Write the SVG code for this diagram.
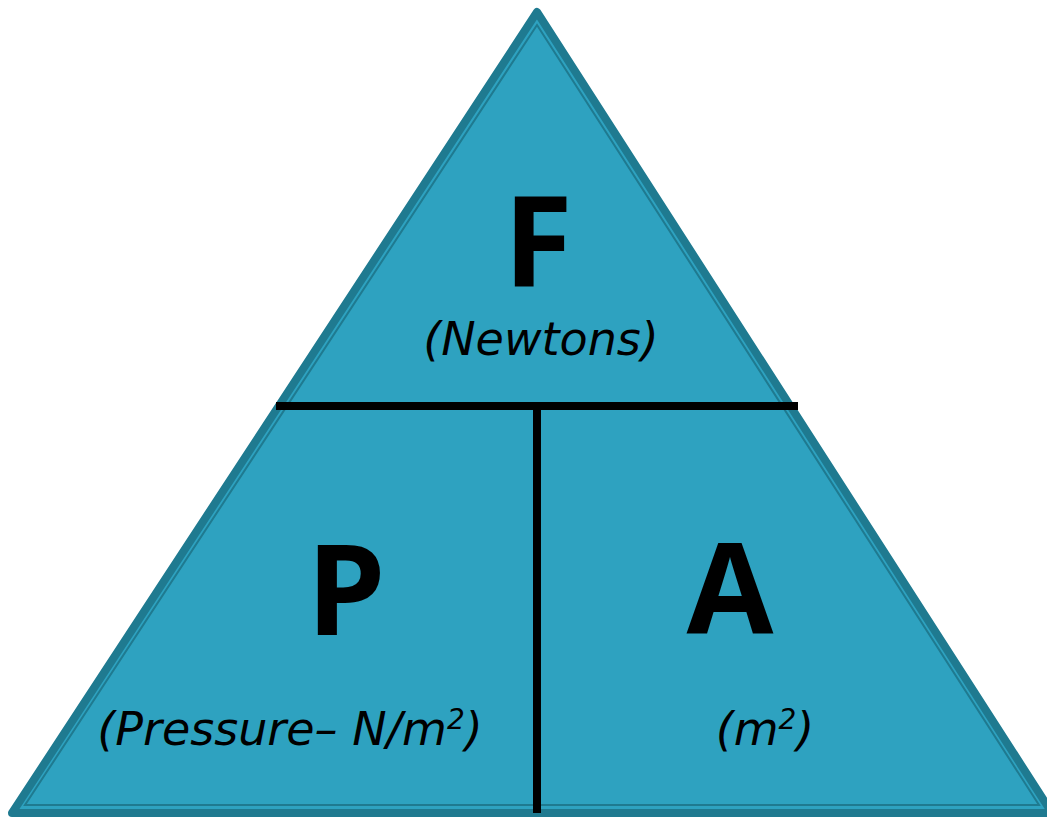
<svg xmlns="http://www.w3.org/2000/svg" width="1047" height="818" viewBox="0 0 1047 818">
<style>
.big{font-family:"Open Sans",sans-serif;font-weight:bold;font-size:126px;fill:#000;text-anchor:middle}
.lbl{font-family:"DejaVu Sans",sans-serif;font-style:italic;font-size:46px;fill:#000;text-anchor:middle}
.sup{font-size:28px}
.div{stroke:#000;stroke-width:8;fill:none}
</style>
<rect width="1047" height="818" fill="#fff"/>
<g id="triangle">
<polygon points="537,12 1052,813 12,813" fill="#2EA2C0" stroke="#1F7A90" stroke-width="8" stroke-linejoin="round"/>
<polygon points="537,25 1039,805 25,805" fill="none" stroke="#1F7A90" stroke-width="2"/>
</g>
<g id="connectors">
<line class="div" x1="276" y1="406" x2="798" y2="406"/>
<line class="div" x1="537" y1="406" x2="537" y2="813" stroke-width="9"/>
</g>
<g id="node-F">
<text class="big" x="538" y="287">F</text>
<text class="lbl" x="541" y="355">(Newtons)</text>
</g>
<g id="node-P">
<text class="big" x="346" y="635">P</text>
<text class="lbl" x="290" y="745">(Pressure– N/m<tspan class="sup" dy="-16">2</tspan><tspan dy="16">)</tspan></text>
</g>
<g id="node-A">
<text class="big" x="730" y="633">A</text>
<text class="lbl" x="765" y="745">(m<tspan class="sup" dy="-16">2</tspan><tspan dy="16">)</tspan></text>
</g>
</svg>
